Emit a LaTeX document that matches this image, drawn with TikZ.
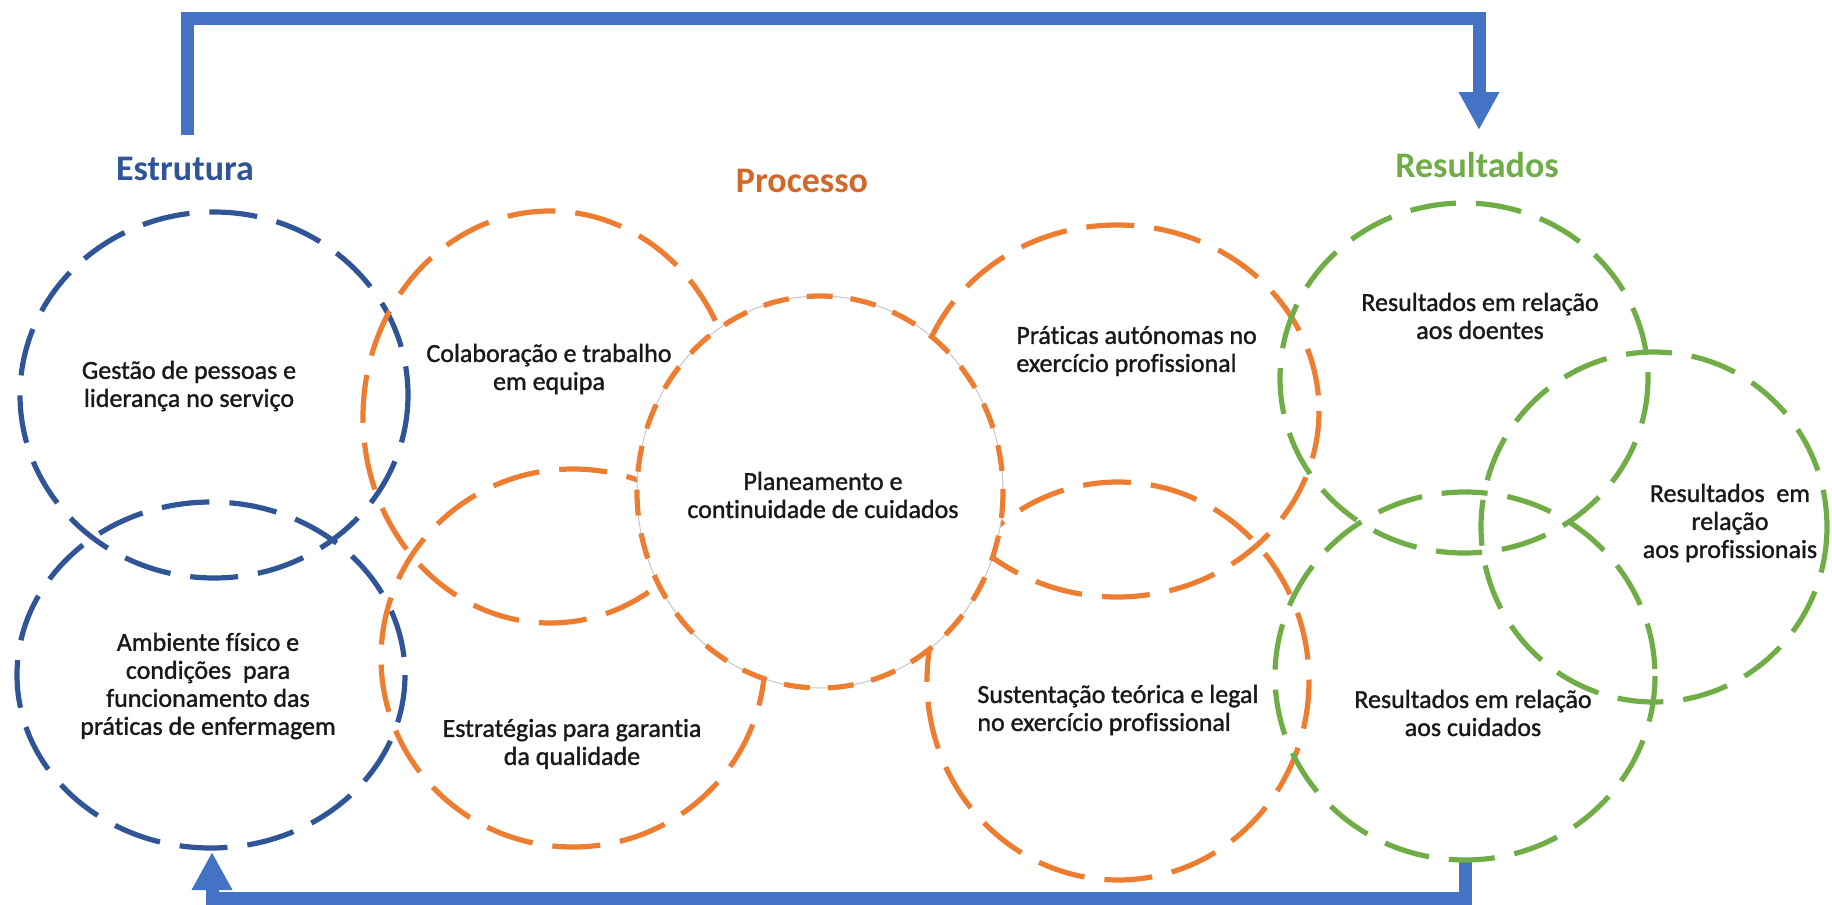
\documentclass[tikz,border=0pt]{standalone}
\usepackage{fontspec}
\setmainfont{Carlito}[Ligatures=NoCommon]
\newfontfamily\corpo{Carlito}[Ligatures=NoCommon, FakeBold=1.3]
\usetikzlibrary{arrows.meta}
\definecolor{azulEst}{HTML}{2F5597}
\definecolor{azulSeta}{HTML}{4472C4}
\definecolor{laranja}{HTML}{ED7D31}
\definecolor{laranjaTxt}{HTML}{D0692A}
\definecolor{verde}{HTML}{70AD47}

\tikzset{
  circEst/.style={draw=azulEst, line width=2.6pt, dash pattern=on 24pt off 10pt},
  circProc/.style={draw=laranja, line width=2.6pt, dash pattern=on 24pt off 10pt},
  circRes/.style={draw=verde, line width=2.6pt, dash pattern=on 23pt off 10pt},
  seta/.style={draw=azulSeta, line width=6.5pt, -{Triangle[width=19pt,length=19pt]}},
  texto/.style={font=\corpo\fontsize{13pt}{14pt}\selectfont, text=black!90, align=center, inner sep=0pt},
  titulo/.style={font=\bfseries\fontsize{18pt}{20pt}\selectfont, anchor=base, inner sep=0pt},
}

\begin{document}
\begin{tikzpicture}[x=0.5pt, y=-0.5pt]
    \useasboundingbox (0,0) rectangle (1832,905);

    % 箭头的端点
    \coordinate (A) at (187,135);
    \coordinate (B) at (187,18);
    \coordinate (C) at (1479,18);
    \coordinate (D) at (1479,130);
    \coordinate (E) at (1465,862);
    \coordinate (F) at (1465,898);
    \coordinate (G) at (212,898);
    \coordinate (H) at (212,852);

    % 绘制反馈箭头
    \draw[seta] (A) -- (B) -- (C) -- (D);
    \draw[seta] (E) -- (F) -- (G) -- (H);

    % 虚线椭圆
    \draw[circEst] (214,395) ellipse [x radius=194, y radius=183];
    \draw[circEst] (211,675) ellipse [x radius=194, y radius=173];
    \draw[circProc] (550,417) ellipse [x radius=187, y radius=206];
    \draw[circProc] (573,658) ellipse [x radius=192, y radius=189];
    \draw[circProc] (1117,411) ellipse [x radius=202, y radius=186];
    \draw[circProc] (1118,681) ellipse [x radius=191, y radius=199];
    \draw[circRes] (1464,378) ellipse [x radius=184, y radius=175];
    \draw[circRes] (1654,527) ellipse [x radius=173, y radius=175];
    \draw[circRes] (1465,676) ellipse [x radius=190, y radius=184];

    % 中间的圆盖在上面
    \filldraw[fill=white, draw=gray!45, line width=0.5pt] (820,492) ellipse [x radius=183, y radius=196];
    \draw[circProc, dash pattern=on 13pt off 9pt] (820,492) ellipse [x radius=183, y radius=196];

    % 标题
    \node[titulo, text=azulEst] (estrutura) at (185,180) {Estrutura};
    \node[titulo, text=laranjaTxt] (processo) at (802,192) {Processo};
    \node[titulo, text=verde] (resultados) at (1477,177) {Resultados};

    % 文字
    \node[texto] (gestao) at (189,386) {Gestão de pessoas e\\liderança no serviço};
    \node[texto] (ambiente) at (208,686) {Ambiente físico e\\condições~~para\\funcionamento das\\práticas de enfermagem};
    \node[texto] (colab) at (549,369) {Colaboração e trabalho\\em equipa};
    \node[texto] (estrateg) at (572,744) {Estratégias para garantia\\da qualidade};
    \node[texto] (planeam) at (823,495) {Planeamento e\\continuidade de cuidados};
    \node[texto, align=left, anchor=west] (praticas) at (1016,351) {Práticas autónomas no\\exercício profissional};
    \node[texto, align=left, anchor=west] (sustent) at (977,710) {Sustentação teórica e legal\\no exercício profissional};
    \node[texto] (doentes) at (1480,316) {Resultados em relação\\aos doentes};
    \node[texto] (profis) at (1730,523) {Resultados~~em\\relação\\aos profissionais};
    \node[texto] (cuidados) at (1473,713) {Resultados em relação\\aos cuidados};
\end{tikzpicture}
\end{document}
